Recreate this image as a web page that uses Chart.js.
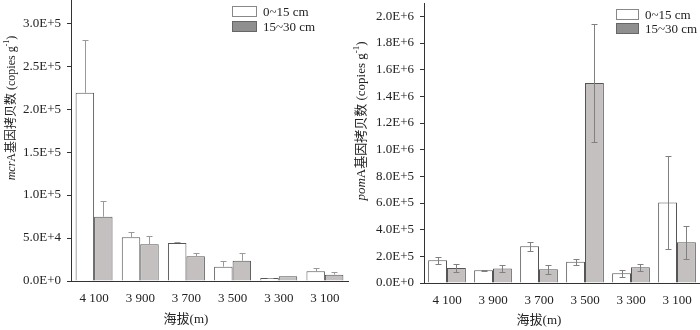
<!DOCTYPE html>
<html>
<head>
<meta charset="utf-8">
<script src="https://cdn.jsdelivr.net/npm/chart.js@4.4.1/dist/chart.umd.min.js"></script>
<style>
  html, body { margin: 0; padding: 0; background: #fff; }
  .wrap { position: relative; width: 700px; height: 330px; }
  .panel { position: absolute; top: 0; width: 350px; height: 330px; }
</style>
</head>
<body>
<div class="wrap">
  <div class="panel" style="left:0"><canvas id="chartMcrA"></canvas></div>
  <div class="panel" style="left:350px"><canvas id="chartPomA"></canvas></div>
</div>
<script>
const altitudes = ['4 100', '3 900', '3 700', '3 500', '3 300', '3 100'];
const depthLabels = ['0~15 cm', '15~30 cm'];

// mcrA gene copies (copies g-1)
const mcrAShallow = [219000, 50800, 44200, 16700, 3500, 11300];
const mcrAShallowErr = [61000, 6500, 800, 6600, 400, 4200];
const mcrADeep = [74800, 42700, 28700, 23600, 5500, 7400];
const mcrADeepErr = [18600, 9300, 4300, 9400, 500, 2700];
const mcrATicks = [0, 50000, 100000, 150000, 200000, 250000, 300000];

// pomA gene copies (copies g-1)
const pomAShallow = [171000, 95000, 276000, 160000, 73000, 604000];
const pomAShallowErr = [25000, 3000, 35000, 23000, 25000, 350000];
const pomADeep = [113000, 108000, 103000, 1500000, 118000, 306000];
const pomADeepErr = [28000, 27000, 35000, 440000, 27000, 123000];
const pomATicks = [0, 200000, 400000, 600000, 800000, 1000000, 1200000, 1400000, 1600000, 1800000, 2000000];

const SERIF = "'Liberation Serif', 'Times New Roman', 'Noto Sans CJK SC', serif";
const INK = '#333';

/* error bars: drawn from each bar element + the y scale */
const errorBars = {
  id: 'errorBars',
  afterDatasetsDraw(chart, args, opts) {
    const { ctx } = chart;
    const y = chart.scales.y;
    chart.data.datasets.forEach((ds, di) => {
      const meta = chart.getDatasetMeta(di);
      ctx.save();
      ctx.strokeStyle = opts.color;
      ctx.lineWidth = 1;
      meta.data.forEach((bar, i) => {
        const v = ds.data[i], e = ds.errors[i];
        const x = Math.round(bar.x) + 0.5;
        const top = Math.round(y.getPixelForValue(v + e)) + 0.5;
        const bot = opts.both ? Math.round(y.getPixelForValue(v - e)) + 0.5 : y.getPixelForValue(v);
        const cap = opts.cap;
        ctx.beginPath();
        ctx.moveTo(x, bot); ctx.lineTo(x, top);
        ctx.moveTo(x - cap, top); ctx.lineTo(x + cap, top);
        if (opts.both) { ctx.moveTo(x - cap, bot); ctx.lineTo(x + cap, bot); }
        ctx.stroke();
      });
      ctx.restore();
    });
  }
};

/* rotated y title with italic gene name and superscript, plus x title and legend box */
const decorations = {
  id: 'decorations',
  afterDraw(chart, args, opts) {
    const { ctx } = chart;
    const size = opts.titleSize;
    const segs = [
      { t: opts.gene, f: `italic ${size}px ${SERIF}`, dy: 0 },
      { t: 'A基因拷贝数 (copies g', f: `${size}px ${SERIF}`, dy: 0 },
      { t: '-1', f: `${Math.round(size * 0.7)}px ${SERIF}`, dy: -size * 0.4 },
      { t: ')', f: `${size}px ${SERIF}`, dy: 0 }
    ];
    ctx.save();
    ctx.fillStyle = '#222';
    ctx.textBaseline = 'middle';
    let total = 0;
    segs.forEach(s => { ctx.font = s.f; s.w = ctx.measureText(s.t).width; total += s.w; });
    ctx.translate(opts.titleX, opts.titleY);
    ctx.rotate(-Math.PI / 2);
    let cx = -total / 2;
    segs.forEach(s => { ctx.font = s.f; ctx.fillText(s.t, cx, s.dy); cx += s.w; });
    ctx.restore();

    // x title
    ctx.save();
    ctx.fillStyle = '#222';
    ctx.font = `13px ${SERIF}`;
    ctx.textAlign = 'center';
    ctx.textBaseline = 'middle';
    ctx.fillText('海拔(m)', opts.xTitleX, opts.xTitleY);
    ctx.restore();

    // legend
    ctx.save();
    ctx.font = `13px ${SERIF}`;
    ctx.textBaseline = 'middle';
    const lg = opts.legend;
    depthLabels.forEach((lab, i) => {
      const yy = lg.y + i * lg.gap;
      ctx.fillStyle = i === 0 ? '#fff' : '#8f8f8f';
      ctx.fillRect(lg.x, yy, lg.w, lg.h);
      ctx.strokeStyle = i === 0 ? '#888' : '#666';
      ctx.lineWidth = 1;
      ctx.strokeRect(lg.x + 0.5, yy + 0.5, lg.w - 1, lg.h - 1);
      ctx.fillStyle = '#222';
      ctx.fillText(lab, lg.x + lg.w + 6, yy + lg.h / 2 + 1);
    });
    ctx.restore();
  }
};

function makeChart(id, shallow, shallowErr, deep, deepErr, tickValues, cfg) {
  return new Chart(document.getElementById(id), {
    type: 'bar',
    data: {
      labels: altitudes,
      datasets: [
        { label: depthLabels[0], data: shallow, errors: shallowErr, backgroundColor: '#ffffff', borderColor: '#555', borderWidth: 1 },
        { label: depthLabels[1], data: deep, errors: deepErr, backgroundColor: '#c4c0c0', borderColor: '#555', borderWidth: 1 }
      ]
    },
    options: {
      responsive: false,
      animation: false,
      layout: { padding: { top: cfg.padTop, right: cfg.padRight, left: 0, bottom: 0 } },
      datasets: { bar: { categoryPercentage: cfg.catPct, barPercentage: 1 } },
      plugins: {
        legend: { display: false },
        tooltip: { enabled: false },
        errorBars: { color: cfg.errColor, both: cfg.both, cap: cfg.cap },
        decorations: cfg.deco
      },
      scales: {
        x: {
          grid: { display: false, drawTicks: false },
          border: { color: INK, width: 1 },
          ticks: { color: '#222', font: { family: SERIF, size: 13 }, padding: 10, maxRotation: 0 },
          afterFit: s => { s.height = cfg.xHeight; s.paddingLeft = 0; s.paddingRight = 0; }
        },
        y: {
          min: 0, max: cfg.max,
          grid: { drawOnChartArea: false, drawTicks: true, tickLength: 4, color: INK },
          border: { color: INK, width: 1 },
          ticks: {
            padding: 6, color: '#222',
            font: { family: SERIF, size: 13 },
            callback: v => v.toExponential(1).toUpperCase()
          },
          afterBuildTicks: s => { s.ticks = tickValues.map(v => ({ value: v })); },
          afterFit: s => { s.width = cfg.yWidth; s.paddingTop = 0; s.paddingBottom = 0; }
        }
      }
    },
    plugins: [errorBars, decorations]
  });
}

function sizeCanvas(id) {
  const c = document.getElementById(id);
  c.width = 350; c.height = 330;
  c.style.width = '350px'; c.style.height = '330px';
}
sizeCanvas('chartMcrA');
sizeCanvas('chartPomA');

makeChart('chartMcrA', mcrAShallow, mcrAShallowErr, mcrADeep, mcrADeepErr, mcrATicks, {
  max: 327000, padTop: 0, padRight: 2, xHeight: 49, yWidth: 71, catPct: 0.8,
  errColor: '#9a9a9a', both: false, cap: 3,
  deco: { gene: 'mcr', titleSize: 12, titleX: 12, titleY: 108, xTitleX: 186, xTitleY: 320,
    legend: { x: 232, y: 6, w: 25, h: 11, gap: 15 } }
});

makeChart('chartPomA', pomAShallow, pomAShallowErr, pomADeep, pomADeepErr, pomATicks, {
  max: 2100000, padTop: 3, padRight: 0, xHeight: 47, yWidth: 74, catPct: 0.82,
  errColor: '#808080', both: true, cap: 3,
  deco: { gene: 'pom', titleSize: 13, titleX: 12, titleY: 121, xTitleX: 189, xTitleY: 321,
    legend: { x: 266, y: 9, w: 23, h: 11, gap: 14 } }
});
</script>
</body>
</html>
